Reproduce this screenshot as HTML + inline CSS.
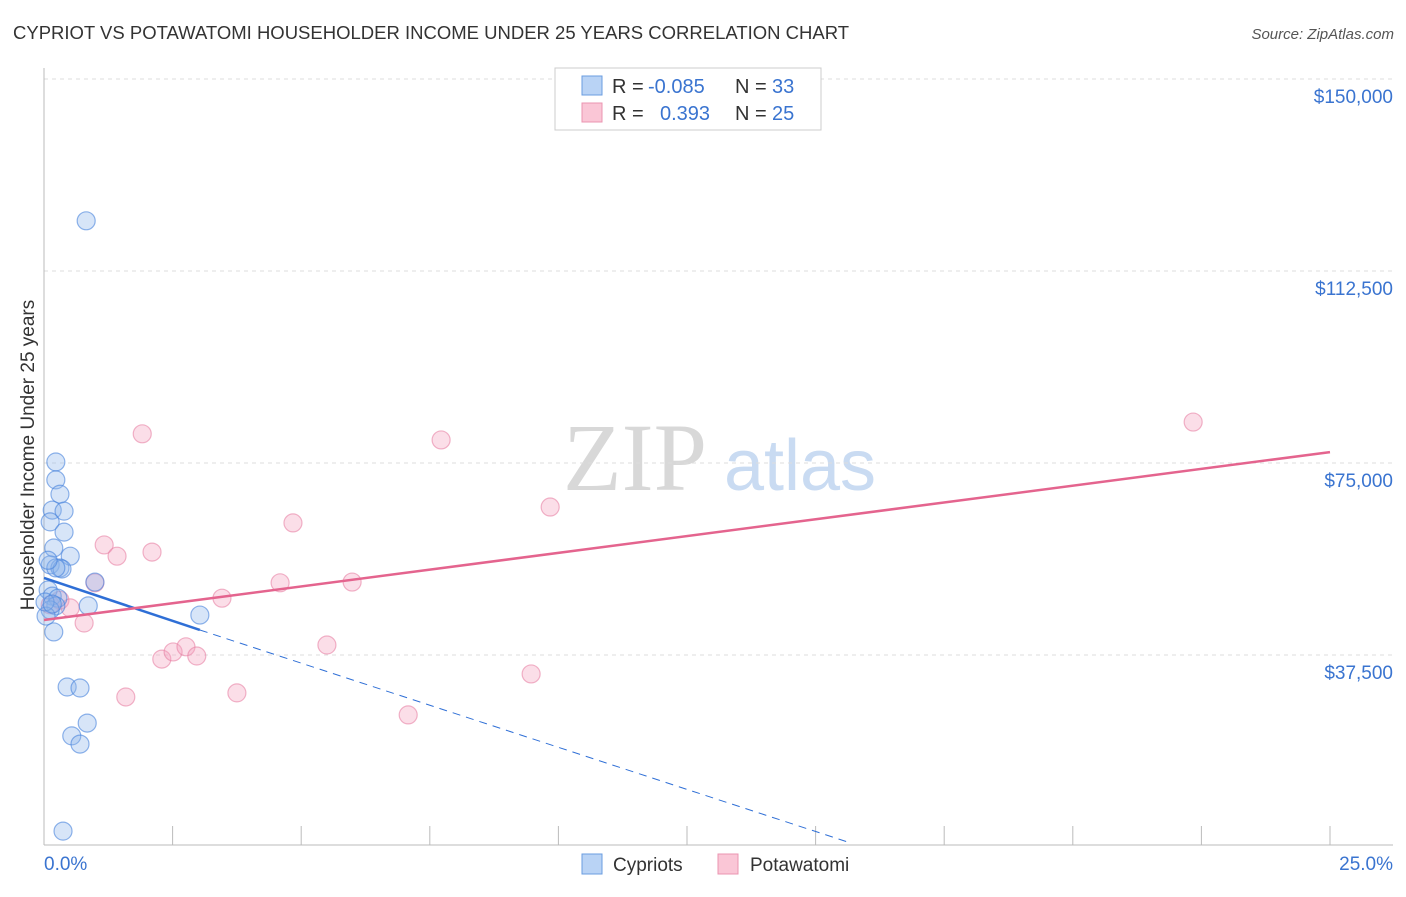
<!DOCTYPE html>
<html><head><meta charset="utf-8">
<style>
html,body{margin:0;padding:0;background:#fff;}
body{width:1406px;height:892px;overflow:hidden;font-family:"Liberation Sans",sans-serif;}
</style></head>
<body>
<svg id="chart" width="1406" height="892" xmlns="http://www.w3.org/2000/svg" font-family="Liberation Sans, sans-serif">
<text x="13" y="39" font-size="18.5" fill="#333">CYPRIOT VS POTAWATOMI HOUSEHOLDER INCOME UNDER 25 YEARS CORRELATION CHART</text>
<text x="1394" y="39" font-size="15" fill="#555" font-style="italic" text-anchor="end">Source: ZipAtlas.com</text>
<g>
<text x="635" y="490" font-size="96" fill="#d8d8d8" font-family="Liberation Serif, serif" text-anchor="middle">ZIP</text>
<text x="800" y="490" font-size="72" fill="#c9dbf2" text-anchor="middle">atlas</text>
</g>
<g id="grid"></g>
<g id="axes"></g>
<g id="marks"></g>
<text transform="translate(34,455) rotate(-90)" font-size="19" fill="#333" text-anchor="middle">Householder Income Under 25 years</text>
<g>
<rect x="555" y="68" width="266" height="62" fill="#fff" stroke="#ccc"/>
<rect x="582" y="76" width="20" height="19" fill="#b9d3f5" stroke="#6a9de0"/>
<rect x="582" y="103" width="20" height="19" fill="#fac6d6" stroke="#eb94b0"/>
<text x="612" y="93" font-size="20" fill="#333">R = </text><text x="648" y="93" font-size="20" fill="#3a74d0">-0.085</text>
<text x="735" y="93" font-size="20" fill="#333">N = </text><text x="772" y="93" font-size="20" fill="#3a74d0">33</text>
<text x="612" y="120" font-size="20" fill="#333">R = </text><text x="660" y="120" font-size="20" fill="#3a74d0">0.393</text>
<text x="735" y="120" font-size="20" fill="#333">N = </text><text x="772" y="120" font-size="20" fill="#3a74d0">25</text>
</g>
<g>
<rect x="582" y="854" width="20" height="20" fill="#b9d3f5" stroke="#6a9de0"/>
<text x="613" y="871" font-size="19" fill="#333">Cypriots</text>
<rect x="718" y="854" width="20" height="20" fill="#fac6d6" stroke="#eb94b0"/>
<text x="750" y="871" font-size="19" fill="#333">Potawatomi</text>
</g>
</svg>
<script>
const yTicks=[37500,75000,112500,150000];
const yTickLabels=["$37,500","$75,000","$112,500","$150,000"];
const xLabels=["0.0%","25.0%"];
const cypX=[0.82,0.23,0.23,0.31,0.16,0.39,0.12,0.39,0.19,0.51,0.12,0.31,0.35,0.23,0.99,0.08,0.16,0.27,0.23,0.86,0.12,0.04,0.19,3.03,0.45,0.70,0.84,0.54,0.70,0.37,0.08,0.02,0.16];
const cypY=[122300,75200,71700,68900,65800,65600,63500,61500,58400,56800,55100,54500,54300,54500,51750,50200,49000,48600,47100,47100,46300,45100,42000,45300,31250,31050,24200,21700,20100,3100,56000,47850,47450];
const potX=[1.91,7.72,22.34,9.84,4.84,1.17,2.10,1.42,0.99,4.59,5.99,3.46,0.78,0.31,0.51,0.12,2.29,2.51,2.76,2.97,5.50,3.75,1.59,9.47,7.08];
const potY=[80700,79500,83000,66400,63300,59000,57600,56800,51600,51600,51750,48600,43750,48200,46700,47300,36700,38100,39100,37300,39450,30100,29300,33800,25800];
const cypTrend=[52540,-3350]; // intercept, slope per %
const potTrend=[44330,1312];
const NS="http://www.w3.org/2000/svg";
const X0=44,X1=1330,Y0=847;
const sx=p=>X0+p/25*(X1-X0);
const sy=v=>Y0-v/37500*192;
function mk(tag,attrs,parent){const e=document.createElementNS(NS,tag);for(const k in attrs)e.setAttribute(k,attrs[k]);parent.appendChild(e);return e;}
const grid=document.getElementById('grid'),axes=document.getElementById('axes'),marks=document.getElementById('marks');
yTicks.forEach((t,i)=>{
 const l=mk('line',{x1:X0,x2:1393,y1:sy(t),y2:sy(t),stroke:'#ddd','stroke-dasharray':'4,4'},grid);
 
 
 const tx=mk('text',{x:1393,y:sy(t)+24,'font-size':19,fill:'#3a74d0','text-anchor':'end'},axes);
 tx.textContent=yTickLabels[i];
 
 
});
const yl=mk('line',{x1:X0,x2:X0,y1:68,y2:845,stroke:'#bbb'},axes);


const xl=mk('line',{x1:X0,x2:1393,y1:845,y2:845,stroke:'#bbb'},axes);


for(let i=1;i<=10;i++){const t=mk('line',{x1:sx(i*2.5),x2:sx(i*2.5),y1:826,y2:845,stroke:'#bbb'},axes);
 
 }
const xa=mk('text',{x:44,y:870,'font-size':19,fill:'#3a74d0'},axes);xa.textContent=xLabels[0];


const xb=mk('text',{x:1393,y:870,'font-size':19,fill:'#3a74d0','text-anchor':'end'},axes);xb.textContent=xLabels[1];


potX.forEach((x,i)=>{const c=mk('circle',{cx:sx(x),cy:sy(potY[i]),r:9,fill:'rgba(244,160,188,0.35)',stroke:'rgba(232,130,165,0.6)','stroke-width':1.2},marks);
 
 });
cypX.forEach((x,i)=>{const c=mk('circle',{cx:sx(x),cy:sy(cypY[i]),r:9,fill:'rgba(140,180,235,0.35)',stroke:'rgba(70,130,220,0.6)','stroke-width':1.2},marks);
 
 });
const maxC=Math.max(...cypX);
const bl=mk('line',{x1:sx(0),y1:sy(cypTrend[0]),x2:sx(maxC),y2:sy(cypTrend[0]+cypTrend[1]*maxC),stroke:'#2f6fd6','stroke-width':2.5},marks);


const zx=-cypTrend[0]/cypTrend[1];
const bd=mk('line',{x1:sx(maxC),y1:sy(cypTrend[0]+cypTrend[1]*maxC),x2:sx(zx),y2:sy(0)-4,stroke:'#2f6fd6','stroke-width':1,'stroke-dasharray':'8,6'},marks);


const pl=mk('line',{x1:sx(0),y1:sy(potTrend[0]),x2:sx(25),y2:sy(potTrend[0]+potTrend[1]*25),stroke:'#e4648e','stroke-width':2.5},marks);


</script>
</body></html>
